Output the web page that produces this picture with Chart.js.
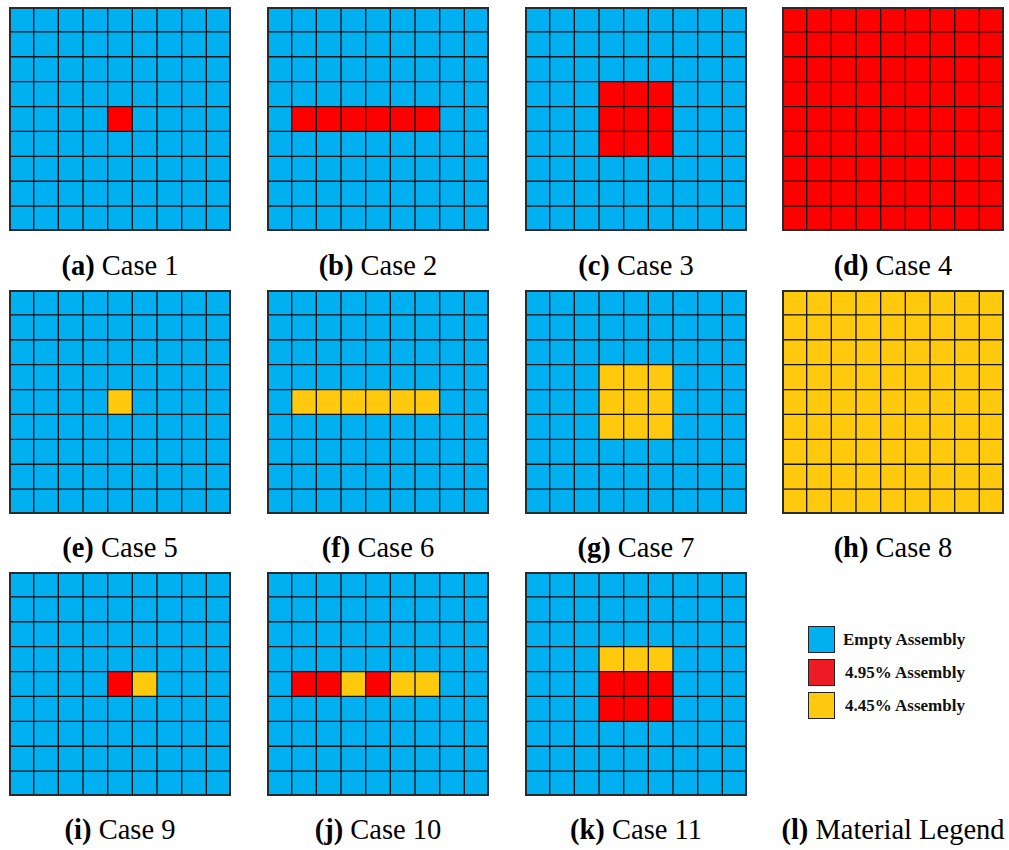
<!DOCTYPE html>
<html>
<head>
<meta charset="utf-8">
<script src="https://cdn.jsdelivr.net/npm/chart.js@4/dist/chart.umd.min.js"></script>
<style>
  html, body { margin: 0; padding: 0; background: #fff; }
  body { width: 1009px; height: 850px; position: relative; overflow: hidden; }
  .panel { position: absolute; width: 222px; height: 224px; }
  .caption {
    position: absolute; width: 258px; text-align: center;
    font-family: "Liberation Serif", "Times New Roman", serif;
    font-size: 28.5px; color: #000; line-height: 32px; white-space: nowrap;
  }
  .caption b { font-weight: bold; }
  .legend { position: absolute; left: 808px; top: 626px; }
  .legend .item { position: relative; height: 33px; }
  .legend .sw {
    position: absolute; left: 0; top: 0; width: 25px; height: 25px;
    border: 1px solid #222;
  }
  .legend .tx {
    position: absolute; left: 36px; top: 0; line-height: 27px;
    font-family: "Liberation Serif", "Times New Roman", serif;
    font-weight: bold; font-size: 17px; color: #111; white-space: nowrap;
  }
</style>
</head>
<body>
<script>
// Material codes: E = empty assembly, R = 4.95% enriched, Y = 4.45% enriched
const materialNames = ['Empty Assembly', '4.95% Assembly', '4.45% Assembly'];
const materialCodes = ['E', 'R', 'Y'];
const coreColors = { E: '#00B0F0', R: '#FF0000', Y: '#FFC90E' };
const legendColors = ['#00B0F0', '#ED1C24', '#FFC90E'];

const columnLabels = ['1', '2', '3', '4', '5', '6', '7', '8', '9'];

// Core loading maps, 9 rows from top to bottom
const case1 = ['EEEEEEEEE','EEEEEEEEE','EEEEEEEEE','EEEEEEEEE','EEEEREEEE','EEEEEEEEE','EEEEEEEEE','EEEEEEEEE','EEEEEEEEE'];
const case2 = ['EEEEEEEEE','EEEEEEEEE','EEEEEEEEE','EEEEEEEEE','ERRRRRREE','EEEEEEEEE','EEEEEEEEE','EEEEEEEEE','EEEEEEEEE'];
const case3 = ['EEEEEEEEE','EEEEEEEEE','EEEEEEEEE','EEERRREEE','EEERRREEE','EEERRREEE','EEEEEEEEE','EEEEEEEEE','EEEEEEEEE'];
const case4 = ['RRRRRRRRR','RRRRRRRRR','RRRRRRRRR','RRRRRRRRR','RRRRRRRRR','RRRRRRRRR','RRRRRRRRR','RRRRRRRRR','RRRRRRRRR'];
const case5 = ['EEEEEEEEE','EEEEEEEEE','EEEEEEEEE','EEEEEEEEE','EEEEYEEEE','EEEEEEEEE','EEEEEEEEE','EEEEEEEEE','EEEEEEEEE'];
const case6 = ['EEEEEEEEE','EEEEEEEEE','EEEEEEEEE','EEEEEEEEE','EYYYYYYEE','EEEEEEEEE','EEEEEEEEE','EEEEEEEEE','EEEEEEEEE'];
const case7 = ['EEEEEEEEE','EEEEEEEEE','EEEEEEEEE','EEEYYYEEE','EEEYYYEEE','EEEYYYEEE','EEEEEEEEE','EEEEEEEEE','EEEEEEEEE'];
const case8 = ['YYYYYYYYY','YYYYYYYYY','YYYYYYYYY','YYYYYYYYY','YYYYYYYYY','YYYYYYYYY','YYYYYYYYY','YYYYYYYYY','YYYYYYYYY'];
const case9 = ['EEEEEEEEE','EEEEEEEEE','EEEEEEEEE','EEEEEEEEE','EEEERYEEE','EEEEEEEEE','EEEEEEEEE','EEEEEEEEE','EEEEEEEEE'];
const case10 = ['EEEEEEEEE','EEEEEEEEE','EEEEEEEEE','EEEEEEEEE','ERRYRYYEE','EEEEEEEEE','EEEEEEEEE','EEEEEEEEE','EEEEEEEEE'];
const case11 = ['EEEEEEEEE','EEEEEEEEE','EEEEEEEEE','EEEYYYEEE','EEERRREEE','EEERRREEE','EEEEEEEEE','EEEEEEEEE','EEEEEEEEE'];

const caseMaps = [case1, case2, case3, case4, case5, case6, case7, case8, case9, case10, case11];
const panelTags = ['a', 'b', 'c', 'd', 'e', 'f', 'g', 'h', 'i', 'j', 'k'];
const caseTitles = ['Case 1', 'Case 2', 'Case 3', 'Case 4', 'Case 5', 'Case 6', 'Case 7', 'Case 8', 'Case 9', 'Case 10', 'Case 11'];
const legendTag = 'l';
const legendTitle = 'Material Legend';

// Page layout
const colLeft = [9, 267, 525, 782];
const rowTop = [7, 290, 572];
const captionMid = [266, 548, 830];

// Outer frame around each core map
const framePlugin = {
  id: 'frame',
  afterDraw(chart) {
    const { ctx, chartArea: a } = chart;
    ctx.save();
    ctx.strokeStyle = '#2a2a2a';
    ctx.lineWidth = 2;
    ctx.strokeRect(a.left + 1, a.top + 1, a.right - a.left - 2, a.bottom - a.top - 2);
    ctx.restore();
  }
};

function addCaption(tag, title, cx, cy) {
  const d = document.createElement('div');
  d.className = 'caption';
  d.style.left = (cx - 129) + 'px';
  d.style.top = (cy - 16) + 'px';
  d.innerHTML = '<b>(' + tag + ')</b> ' + title;
  document.body.appendChild(d);
}

caseMaps.forEach((rows, i) => {
  const col = i % 4, row = Math.floor(i / 4);
  const wrap = document.createElement('div');
  wrap.className = 'panel';
  wrap.style.left = colLeft[col] + 'px';
  wrap.style.top = rowTop[row] + 'px';
  const canvas = document.createElement('canvas');
  wrap.appendChild(canvas);
  document.body.appendChild(wrap);

  // Stacked bars: one dataset per core row, built from the bottom row up
  const datasets = [];
  for (let r = rows.length - 1; r >= 0; r--) {
    const codes = rows[r].split('');
    datasets.push({
      label: 'row ' + (r + 1),
      data: codes.map(() => 1),
      backgroundColor: codes.map(c => coreColors[c]),
      borderColor: '#141414',
      borderWidth: 1,
      borderSkipped: false,
      barPercentage: 1,
      categoryPercentage: 1
    });
  }

  new Chart(canvas, {
    type: 'bar',
    data: { labels: columnLabels, datasets },
    options: {
      responsive: true,
      maintainAspectRatio: false,
      animation: false,
      layout: { padding: 0 },
      plugins: { legend: { display: false }, tooltip: { enabled: false } },
      scales: {
        x: { stacked: true, display: false },
        y: { stacked: true, display: false, min: 0, max: rows.length }
      }
    },
    plugins: [framePlugin]
  });

  addCaption(panelTags[i], caseTitles[i], colLeft[col] + 111, captionMid[row]);
});

// Material legend panel
const legend = document.createElement('div');
legend.className = 'legend';
materialNames.forEach((name, k) => {
  const item = document.createElement('div');
  item.className = 'item';
  item.innerHTML = '<div class="sw" style="background:' + legendColors[k] + '"></div>' +
    '<div class="tx" style="left:' + (k === 0 ? 35 : 37) + 'px">' + name + '</div>';
  legend.appendChild(item);
});
document.body.appendChild(legend);
addCaption(legendTag, legendTitle, colLeft[3] + 111, captionMid[2]);
</script>
</body>
</html>
